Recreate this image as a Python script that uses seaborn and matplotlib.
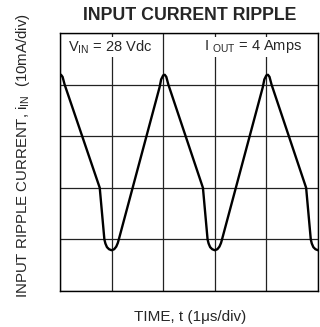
import matplotlib
matplotlib.use("Agg")
import matplotlib.pyplot as plt
import seaborn as sns
import pandas as pd

# scope trace: time in divisions, current in divisions
time_div = [0.00, 0.02, 0.05, 0.09, 0.77, 0.86, 0.88, 0.91, 0.95, 1.00, 1.05, 1.09, 1.12, 1.14,
            1.93, 1.96, 2.00, 2.03, 2.06, 2.10, 2.77, 2.86, 2.88, 2.91, 2.95, 3.00, 3.05, 3.09,
            3.12, 3.14, 3.93, 3.96, 4.00, 4.03, 4.06, 4.10, 4.77, 4.86, 4.88, 4.91, 4.95, 5.00]
current_div = [4.15, 4.19, 4.15, 4.00, 2.00, 1.00, 0.92, 0.85, 0.81, 0.79, 0.81, 0.86, 0.93, 1.00,
               3.95, 4.10, 4.18, 4.19, 4.15, 4.00, 2.00, 1.00, 0.92, 0.85, 0.81, 0.79, 0.81, 0.86,
               0.93, 1.00, 3.95, 4.10, 4.18, 4.19, 4.15, 4.00, 2.00, 1.00, 0.92, 0.85, 0.81, 0.79]
grid_divs = [0, 1, 2, 3, 4, 5]

title = "INPUT CURRENT RIPPLE"
note_vin = r"V$_{\mathrm{IN}}$ = 28 Vdc"
note_iout = r"I $_{\mathrm{OUT}}$ = 4 Amps"
x_label = "TIME, t (1\u03bcs/div)"
y_label = r"INPUT RIPPLE CURRENT, i$_{\mathrm{IN}}$  (10mA/div)"

sns.set_style("white")
plt.rcParams["font.family"] = ["Liberation Sans", "DejaVu Sans"]
plt.rcParams["mathtext.fontset"] = "custom"
plt.rcParams["mathtext.rm"] = "Liberation Sans"

df = pd.DataFrame({"t": time_div, "i": current_div})

fig = plt.figure(figsize=(3.2, 3.27), dpi=100)
ax = fig.add_axes([60 / 320, 36 / 327, 258 / 320, 258 / 327])

for g in grid_divs:
    ax.axvline(g, color="#222222", lw=0.9, zorder=1)
    ax.axhline(g, color="#222222", lw=0.9, zorder=1)

sns.lineplot(data=df, x="t", y="i", sort=False, color="black", lw=1.7, ax=ax, zorder=3)

ax.set_xlim(0, 5)
ax.set_ylim(0, 5)
ax.set_xticks([])
ax.set_yticks([])
ax.set_xlabel("")
ax.set_ylabel("")
for s in ax.spines.values():
    s.set_color("black")
    s.set_linewidth(1.0)

ax.text(0.16, 4.73, note_vin, fontsize=10.5, va="center", ha="left",
        bbox=dict(facecolor="white", edgecolor="none", pad=1), zorder=4)
ax.text(2.80, 4.73, note_iout, fontsize=10.5, va="center", ha="left",
        bbox=dict(facecolor="white", edgecolor="none", pad=1), zorder=4)

fig.text(190 / 320, 1 - 15 / 327, title, fontsize=12.8, fontweight="bold", ha="center", va="center")
fig.text(190 / 320, 1 - 317 / 327, x_label, fontsize=11, ha="center", va="center")
fig.text(23 / 320, 1 - 156 / 327, y_label, fontsize=10.8, rotation=90, ha="center", va="center")

fig.savefig("out.png", dpi=100)
